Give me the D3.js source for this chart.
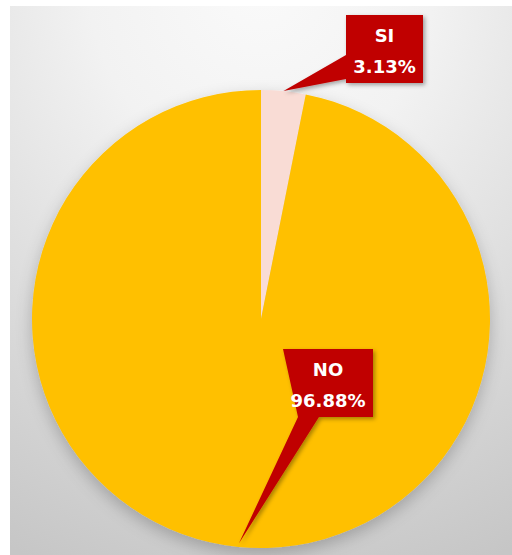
<!DOCTYPE html>
<html><head><meta charset="utf-8">
<script src="https://cdn.jsdelivr.net/npm/d3@7"></script>
<style>html,body{margin:0;padding:0;background:#fff;}svg{display:block;}</style>
</head><body>
<script>
const categories = ["SI", "NO"];
const values = [3.13, 96.88];
const labels = ["3.13%", "96.88%"];
const colors = ["#F9DCD5", "#FFC000"];

const W = 512, H = 555;
const svg = d3.select("body").append("svg").attr("width", W).attr("height", H);
const defs = svg.append("defs");
const bg = defs.append("radialGradient").attr("id", "bg")
  .attr("cx", "50%").attr("cy", "-5%").attr("r", "115%").attr("fx", "50%").attr("fy", "-5%");
bg.append("stop").attr("offset", "0%").attr("stop-color", "#fafafa");
bg.append("stop").attr("offset", "30%").attr("stop-color", "#f2f2f2");
bg.append("stop").attr("offset", "100%").attr("stop-color", "#c6c6c6");

const f = defs.append("filter").attr("id", "pieShadow").attr("x", "-20%").attr("y", "-20%").attr("width", "140%").attr("height", "140%");
f.append("feDropShadow").attr("dx", 0).attr("dy", 6).attr("stdDeviation", 8).attr("flood-color", "#000").attr("flood-opacity", 0.22);
const f2 = defs.append("filter").attr("id", "boxShadow").attr("x", "-30%").attr("y", "-30%").attr("width", "160%").attr("height", "160%");
f2.append("feDropShadow").attr("dx", 2).attr("dy", 2).attr("stdDeviation", 2).attr("flood-color", "#000").attr("flood-opacity", 0.35);

svg.append("rect").attr("x", 10).attr("y", 6).attr("width", W - 10).attr("height", H - 6).attr("fill", "url(#bg)");

const cx = 261, cy = 319, R = 229;
const g = svg.append("g").attr("transform", `translate(${cx},${cy})`);
const pie = d3.pie().sort(null).value(d => d)(values);
const arc = d3.arc().innerRadius(0).outerRadius(R);

const pieG = g.append("g").attr("filter", "url(#pieShadow)");
pieG.selectAll("path").data(pie).join("path")
  .attr("d", arc).attr("fill", (d, i) => colors[i]);

// callouts
const boxes = [
  {x: 346, y: 15, w: 77, h: 68, base: [[346, 55], [346, 79]]},
  {x: 283, y: 349, w: 90, h: 68, base: [[298, 417], [319, 417]]}
];
const tipR = [R * 1.0, R * 0.985];
pie.forEach((d, i) => {
  const a = (d.startAngle + d.endAngle) / 2;
  const tx = cx + Math.sin(a) * tipR[i], ty = cy - Math.cos(a) * tipR[i];
  const b = boxes[i];
  const cg = svg.append("g").attr("filter", "url(#boxShadow)");
  cg.append("path")
    .attr("d", `M${tx},${ty}L${b.base[0][0]},${b.base[0][1]}L${b.x},${b.y}L${b.x + b.w},${b.y}L${b.x + b.w},${b.y + b.h}L${b.x},${b.y + b.h}L${b.base[1][0]},${b.base[1][1]}Z`)
    .attr("fill", "#C00000");
  const t = svg.append("text").attr("text-anchor", "middle")
    .attr("font-family", "DejaVu Sans").attr("font-weight", "bold").attr("font-size", 18)
    .attr("fill", "#fff");
  t.append("tspan").attr("x", b.x + b.w / 2).attr("y", b.y + 27).text(categories[i]);
  t.append("tspan").attr("x", b.x + b.w / 2).attr("y", b.y + 58).text(labels[i]);
});
</script>
</body></html>
